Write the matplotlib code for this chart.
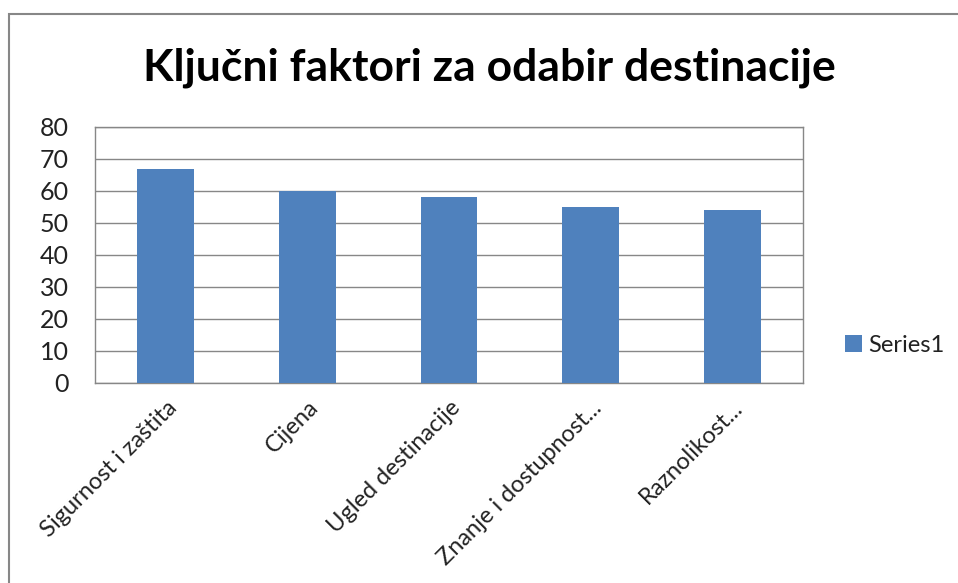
import matplotlib
matplotlib.use("Agg")
import matplotlib.pyplot as plt
from matplotlib.patches import Rectangle

categories = ["Sigurnost i zaštita", "Cijena", "Ugled destinacije",
              "Znanje i dostupnost...", "Raznolikost..."]
values = [67, 60, 58, 55, 54]
yticks = [0, 10, 20, 30, 40, 50, 60, 70, 80]
title = "Ključni faktori za odabir destinacije"
series_name = "Series1"

plt.rcParams['font.family'] = ['Lato', 'DejaVu Sans']

W, H = 958, 583
fig = plt.figure(figsize=(W/100, H/100), dpi=100)
fig.patch.set_facecolor('white')

# outer chart frame
fig.patches.append(Rectangle((9/W, -0.1), 1.0, 1 - 14/H + 0.1, transform=fig.transFigure,
                             fill=False, edgecolor='#878787', linewidth=1.5))

ax = fig.add_axes([95/W, 1 - 383/H, (803-95)/W, (383-127)/H])
x = range(len(categories))
bars = ax.bar(x, values, width=0.4, color='#4F81BD', label=series_name, zorder=3)
ax.set_xlim(-0.5, len(categories) - 0.5)
ax.set_ylim(0, 80)
ax.set_yticks(yticks)
ax.set_yticklabels([str(t) for t in yticks], fontsize=18, color='#222222')
ax.yaxis.grid(True, color='#878787', linewidth=1, zorder=0)
ax.set_axisbelow(True)
ax.tick_params(axis='both', length=0)
ax.tick_params(axis='y', pad=19)
ax.set_xticks(list(x))
ax.set_xticklabels(categories, rotation=45, ha='right', rotation_mode='anchor',
                   fontsize=17, color='#222222')
ax.tick_params(axis='x', pad=10)
for s in ax.spines.values():
    s.set_color('#878787')
    s.set_linewidth(1)

fig.text(489/W, 1 - 68/H, title, ha='center', va='center', fontsize=32,
         fontweight='bold', color='black')

leg = fig.legend(handles=[bars], labels=[series_name], loc='center left',
                 bbox_to_anchor=(845/W, 1 - 345/H), frameon=False, fontsize=17,
                 handlelength=0.7, handleheight=0.7, handletextpad=0.3,
                 borderpad=0, borderaxespad=0)
for t in leg.get_texts():
    t.set_color('#222222')

fig.savefig("out.png", dpi=100)
